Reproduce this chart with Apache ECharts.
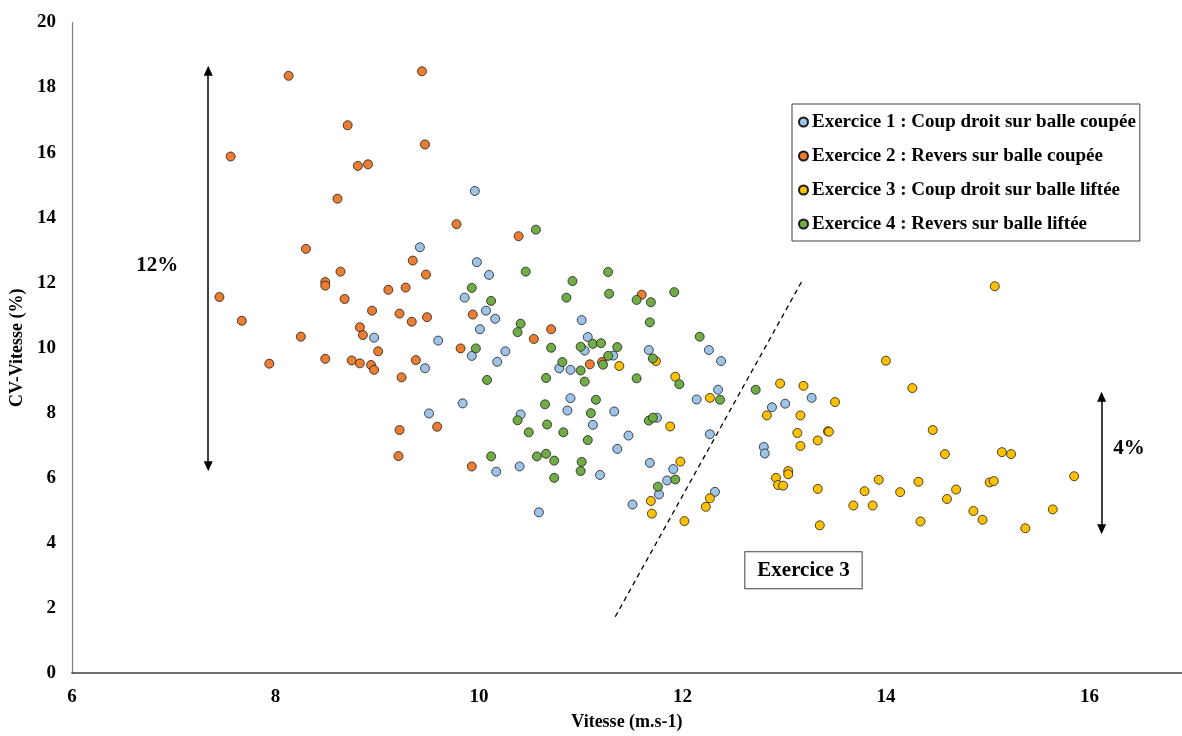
<!DOCTYPE html>
<html>
<head>
<meta charset="utf-8">
<script src="https://cdn.jsdelivr.net/npm/echarts@6/dist/echarts.min.js"></script>
<style>
html,body{margin:0;padding:0;background:#fff;}
#chart{width:1182px;height:736px;}
</style>
</head>
<body>
<div id="chart"></div>
<script>
// ---- Data (Vitesse m.s-1, CV-Vitesse %) ----
const seriesNames = [
  'Exercice 1 : Coup droit sur balle coupée',
  'Exercice 2 : Revers sur balle coupée',
  'Exercice 3 : Coup droit sur balle liftée',
  'Exercice 4 : Revers sur balle liftée'
];
const ex1Points = [
  [9.96,14.82],[9.42,13.09],[9.98,12.63],[10.10,12.24],[9.86,11.54],[10.07,11.14],[10.16,10.89],
  [11.01,10.85],[10.01,10.57],[9.60,10.22],[11.07,10.33],[8.97,10.31],[9.93,9.75],[10.26,9.89],
  [10.18,9.57],[11.04,9.91],[11.67,9.93],[12.26,9.93],[12.38,9.59],[11.32,9.76],[9.47,9.37],
  [10.79,9.37],[10.90,9.32],[10.90,8.45],[9.84,8.29],[9.51,7.98],[10.87,8.07],[11.33,8.04],
  [10.41,7.95],[11.12,7.63],[11.47,7.30],[11.36,6.89],[11.75,7.85],[12.14,8.41],[12.35,8.71],
  [12.27,7.34],[10.17,6.19],[10.40,6.35],[11.19,6.09],[11.68,6.46],[11.91,6.27],[11.85,5.92],
  [11.77,5.49],[11.51,5.18],[12.32,5.57],[10.59,4.94],[13.27,8.46],[12.88,8.17],[13.01,8.28],
  [12.80,6.95],[12.81,6.75]
];
const ex2Points = [
  [8.13,18.36],[8.71,16.84],[7.56,15.88],[8.81,15.59],[8.91,15.64],[8.61,14.58],[8.30,13.04],
  [8.64,12.34],[8.49,12.02],[8.49,11.91],[9.11,11.78],[7.45,11.56],[8.68,11.50],[9.44,18.50],
  [9.47,16.25],[9.35,12.68],[9.28,11.85],[7.67,10.83],[8.95,11.14],[9.22,11.05],[9.34,10.80],
  [8.25,10.34],[8.83,10.63],[8.86,10.39],[9.01,9.89],[7.94,9.51],[8.49,9.66],[8.75,9.61],
  [8.83,9.52],[8.94,9.47],[8.97,9.32],[9.38,9.62],[9.24,9.09],[9.22,7.47],[9.21,6.67],
  [9.78,13.80],[10.39,13.43],[9.48,12.25],[9.94,11.02],[9.49,10.94],[11.60,11.63],[10.71,10.57],
  [10.54,10.27],[9.82,9.98],[11.09,9.49],[11.21,9.56],[9.59,7.57],[9.93,6.35]
];
const ex3Points = [
  [11.74,9.59],[11.38,9.44],[11.93,9.11],[11.88,7.58],[12.27,8.46],[11.98,6.50],[11.69,5.29],
  [11.70,4.90],[12.02,4.67],[12.27,5.37],[12.23,5.11],[12.96,8.90],[13.19,8.83],[13.50,8.33],
  [12.83,7.92],[13.16,7.92],[13.13,7.38],[13.43,7.43],[13.44,7.42],[13.33,7.15],[13.16,6.98],
  [13.04,6.21],[13.04,6.11],[12.92,6.00],[12.94,5.78],[12.99,5.76],[13.33,5.66],[13.35,4.54],
  [15.07,11.89],[14.00,9.60],[14.26,8.76],[14.46,7.47],[14.58,6.73],[15.14,6.79],[15.23,6.73],
  [13.93,5.94],[13.79,5.59],[14.32,5.88],[14.14,5.56],[14.69,5.64],[14.60,5.35],[15.02,5.86],
  [15.06,5.90],[15.85,6.05],[13.68,5.15],[13.87,5.15],[14.34,4.66],[14.86,4.98],[14.95,4.71],
  [15.37,4.45],[15.64,5.03]
];
const ex4Points = [
  [10.56,13.63],[10.46,12.34],[10.92,12.05],[11.27,12.33],[9.93,11.84],[10.12,11.44],[10.86,11.54],
  [11.28,11.66],[11.55,11.47],[11.69,11.40],[11.92,11.71],[11.68,10.78],[10.41,10.74],[10.38,10.48],
  [12.17,10.34],[9.97,9.98],[10.71,10.00],[11.00,10.03],[11.12,10.12],[11.20,10.14],[11.36,10.02],
  [11.71,9.67],[11.27,9.75],[10.82,9.56],[11.22,9.48],[11.00,9.30],[11.04,8.96],[10.66,9.07],
  [10.08,9.01],[11.55,9.06],[11.97,8.88],[11.15,8.40],[10.65,8.26],[11.10,7.99],[10.38,7.77],
  [10.67,7.64],[10.49,7.40],[10.83,7.40],[11.07,7.16],[11.67,7.76],[11.71,7.85],[12.37,8.40],
  [12.72,8.71],[10.12,6.66],[10.57,6.66],[10.66,6.74],[10.74,6.53],[10.74,6.00],[11.01,6.49],
  [11.00,6.21],[11.93,5.95],[11.76,5.73]
];
const xTicks = [6, 8, 10, 12, 14, 16];
const yTicks = [0, 2, 4, 6, 8, 10, 12, 14, 16, 18, 20];

// annotations (data coordinates)
const trendLine = [[11.34, 1.73], [13.17, 12.02]];
const arrow12 = [[7.34, 18.52], [7.34, 6.36]];
const arrow4 = [[16.12, 8.49], [16.12, 4.42]];
const label12 = { text: '12%', at: [6.84, 12.54] };
const label4 = { text: '4%', at: [16.39, 6.89] };
const labelEx3 = { text: 'Exercice 3', at: [13.19, 3.16] };

const colors = ['#9DC3E6', '#ED7D31', '#FFC000', '#70AD47'];
const FONT = '"Liberation Serif", "Times New Roman", serif';
const allPoints = [ex1Points, ex2Points, ex3Points, ex4Points];

const chart = echarts.init(document.getElementById('chart'), null, { renderer: 'canvas' });

const scatterSeries = allPoints.map((pts, i) => ({
  name: seriesNames[i],
  type: 'scatter',
  data: pts,
  symbol: 'circle',
  symbolSize: 9,
  itemStyle: { color: colors[i], borderColor: '#1a1a1a', borderWidth: 0.8, opacity: 1 },
  emphasis: { disabled: true },
  z: 2 + i
}));

const annotSeries = {
  name: 'annot',
  type: 'scatter',
  data: [],
  silent: true,
  z: 10,
  markLine: {
    silent: true,
    animation: false,
    label: { show: false },
    emphasis: { disabled: true },
    data: [
      [
        { coord: trendLine[0], symbol: 'none', lineStyle: { color: '#000', width: 1.3, type: [5, 4] } },
        { coord: trendLine[1], symbol: 'none' }
      ],
      [
        { coord: arrow12[0], symbol: 'triangle', symbolSize: [9, 10], lineStyle: { color: '#000', width: 1.5, type: 'solid' } },
        { coord: arrow12[1], symbol: 'triangle', symbolSize: [9, 10] }
      ],
      [
        { coord: arrow4[0], symbol: 'triangle', symbolSize: [9, 10], lineStyle: { color: '#000', width: 1.5, type: 'solid' } },
        { coord: arrow4[1], symbol: 'triangle', symbolSize: [9, 10] }
      ]
    ],
    itemStyle: { color: '#000' }
  },
  markPoint: {
    silent: true,
    animation: false,
    symbol: 'circle',
    symbolSize: 0,
    data: [
      { coord: label12.at, value: label12.text,
        label: { show: true, position: 'inside', formatter: label12.text, color: '#000', fontFamily: FONT, fontWeight: 'bold', fontSize: 21 } },
      { coord: label4.at, value: label4.text,
        label: { show: true, position: 'inside', formatter: label4.text, color: '#000', fontFamily: FONT, fontWeight: 'bold', fontSize: 21 } },
      { coord: labelEx3.at, value: labelEx3.text,
        label: { show: true, position: 'inside', formatter: labelEx3.text, color: '#000', fontFamily: FONT, fontWeight: 'bold', fontSize: 21,
          backgroundColor: '#fff', borderColor: '#404040', borderWidth: 1, padding: [8, 12, 7, 12] } }
    ]
  }
};

const option = {
  animation: false,
  backgroundColor: '#ffffff',
  textStyle: { fontFamily: FONT },
  grid: { left: 70, right: 0, top: 22.5, bottom: 58.5, containLabel: false },
  legend: {
    data: seriesNames,
    orient: 'vertical',
    left: 792,
    top: 104,
    backgroundColor: '#fff',
    borderColor: '#404040',
    borderWidth: 1,
    padding: [8, 4, 7, 6],
    itemGap: 14,
    itemWidth: 9,
    itemHeight: 9,
    icon: 'circle',
    selectedMode: false,
    textStyle: { fontFamily: FONT, fontWeight: 'bold', fontSize: 19, color: '#000', lineHeight: 20, padding: [0, 0, 0, -1] }
  },
  xAxis: {
    type: 'value',
    min: xTicks[0],
    max: 16.91,
    interval: 2,
    name: 'Vitesse (m.s-1)',
    nameLocation: 'middle',
    nameGap: 40,
    nameTextStyle: { fontFamily: FONT, fontWeight: 'bold', fontSize: 18, color: '#000' },
    axisLine: { show: true, onZero: false, lineStyle: { color: '#404040', width: 1.5 } },
    axisTick: { show: false },
    splitLine: { show: false },
    axisLabel: {
      margin: 15,
      fontFamily: FONT, fontWeight: 'bold', fontSize: 19, color: '#000',
      showMaxLabel: false,
      formatter: v => (xTicks.indexOf(Math.round(v * 1000) / 1000) >= 0 ? String(Math.round(v)) : '')
    }
  },
  yAxis: {
    type: 'value',
    min: yTicks[0],
    max: yTicks[yTicks.length - 1],
    interval: 2,
    name: 'CV-Vitesse (%)',
    nameLocation: 'middle',
    nameRotate: 90,
    nameGap: 40,
    nameTextStyle: { fontFamily: FONT, fontWeight: 'bold', fontSize: 18, color: '#000' },
    axisLine: { show: true, onZero: false, lineStyle: { color: '#808080', width: 1.2 } },
    axisTick: { show: false },
    splitLine: { show: false },
    axisLabel: {
      margin: 16,
      fontFamily: FONT, fontWeight: 'bold', fontSize: 19, color: '#000',
      formatter: v => String(v)
    }
  },
  series: scatterSeries.concat([annotSeries])
};

chart.setOption(option);
</script>
</body>
</html>
